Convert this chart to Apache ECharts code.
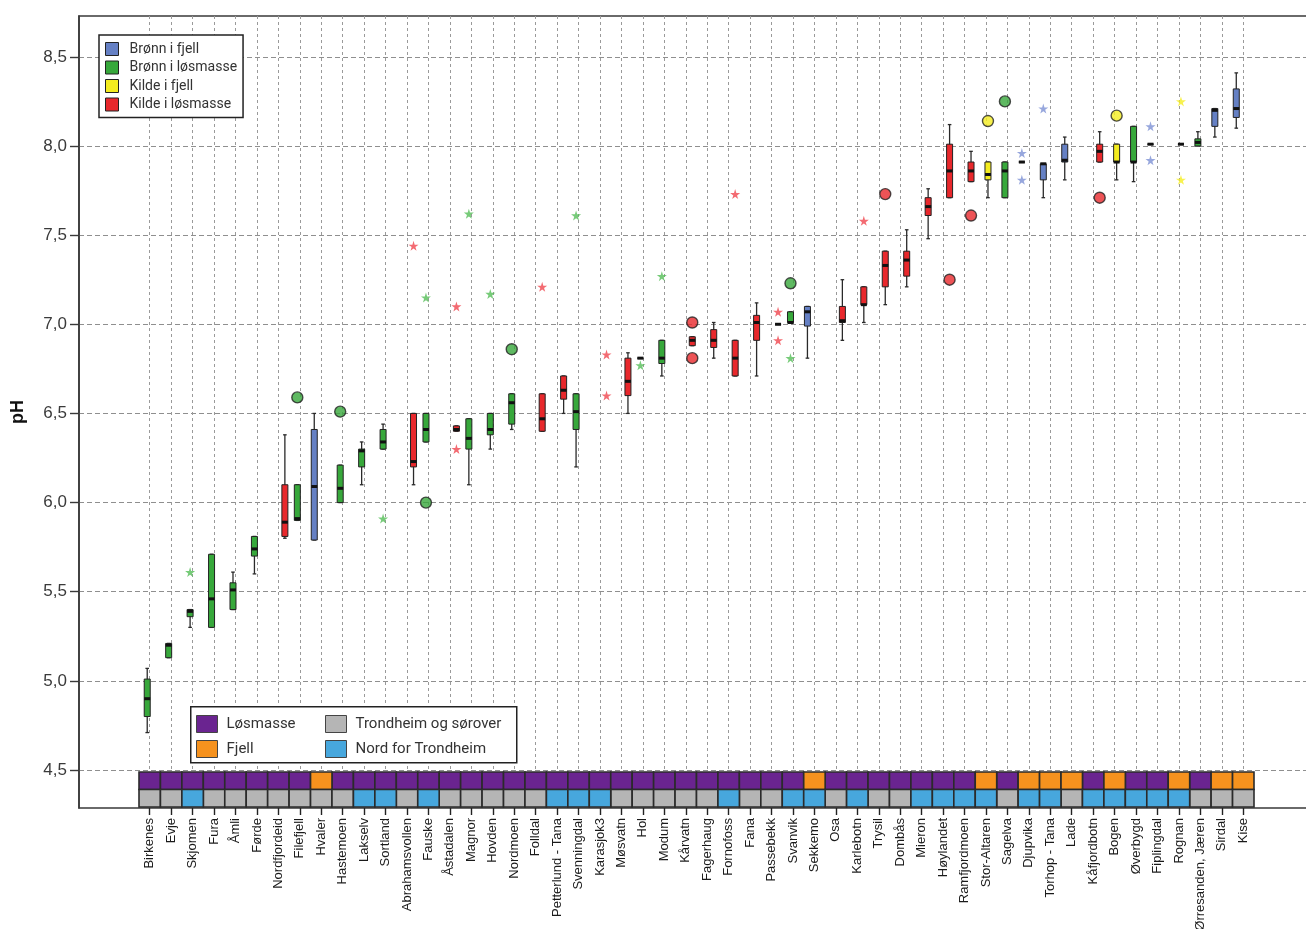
<!DOCTYPE html>
<html>
<head>
<meta charset="utf-8">
<script src="https://cdn.jsdelivr.net/npm/echarts@6/dist/echarts.min.js"></script>
<style>
  html, body { margin: 0; padding: 0; background: #fff; }
  #chart { width: 1306px; height: 929px; }
</style>
</head>
<body>
<div id="chart"></div>
<script>
// stasjoner, sortert etter median pH
const categories = [
  'Birkenes', 'Evje', 'Skjomen', 'Fura', 'Åmli', 'Førde', 'Nordfjordeid', 'Filefjell', 'Hvaler', 'Hastemoen',
  'Lakselv', 'Sortland', 'Abrahamsvollen', 'Fauske', 'Åstadalen', 'Magnor', 'Hovden', 'Nordmoen', 'Folldal', 'Petterlund - Tana',
  'Svenningdal', 'Karasjok3', 'Møsvatn', 'Hol', 'Modum', 'Kårvatn', 'Fagerhaug', 'Fornofoss', 'Fana', 'Passebekk',
  'Svanvik', 'Sekkemo', 'Osa', 'Karlebotn', 'Trysil', 'Dombås', 'Mieron', 'Høylandet', 'Ramfjordmoen', 'Stor-Altaren',
  'Sagelva', 'Djupvika', 'Torhop - Tana', 'Lade', 'Kåfjordbotn', 'Bogen', 'Øverbygd', 'Fiplingdal', 'Rognan', 'Ørresanden, Jæren',
  'Sirdal', 'Kise'
]

// BF = brønn i fjell, BL = brønn i løsmasse, KF = kilde i fjell, KL = kilde i løsmasse
const boxType = [
  'BL', 'BL', 'BL', 'BL', 'BL', 'BL', 'KL', 'BL', 'BF', 'BL',
  'BL', 'BL', 'KL', 'BL', 'KL', 'BL', 'BL', 'BL', 'KL', 'KL',
  'BL', 'KL', 'KL', 'BL', 'BL', 'KL', 'KL', 'KL', 'KL', 'KL',
  'BL', 'BF', 'KL', 'KL', 'KL', 'KL', 'KL', 'KL', 'KL', 'KF',
  'BL', 'BF', 'BF', 'BF', 'KL', 'KF', 'BL', 'BF', 'KF', 'BL',
  'BF', 'BF'
]

// [min, Q1, median, Q3, max]
const boxStats = [
  [4.71, 4.80, 4.90, 5.01, 5.07], [5.13, 5.13, 5.20, 5.21, 5.21], [5.30, 5.36, 5.39, 5.40, 5.40],
  [5.30, 5.30, 5.46, 5.71, 5.71], [5.40, 5.40, 5.51, 5.55, 5.61], [5.60, 5.70, 5.74, 5.81, 5.81],
  [5.80, 5.81, 5.89, 6.10, 6.38], [5.90, 5.90, 5.91, 6.10, 6.10], [5.79, 5.79, 6.09, 6.41, 6.50],
  [6.00, 6.00, 6.08, 6.21, 6.21], [6.10, 6.20, 6.29, 6.30, 6.34], [6.30, 6.30, 6.34, 6.41, 6.44],
  [6.10, 6.20, 6.23, 6.50, 6.50], [6.34, 6.34, 6.41, 6.50, 6.50], [6.40, 6.40, 6.41, 6.43, 6.43],
  [6.10, 6.30, 6.36, 6.47, 6.47], [6.30, 6.38, 6.41, 6.50, 6.50], [6.41, 6.44, 6.56, 6.61, 6.61],
  [6.40, 6.40, 6.47, 6.61, 6.61], [6.50, 6.58, 6.63, 6.71, 6.71], [6.20, 6.41, 6.51, 6.61, 6.61],
  null, [6.50, 6.60, 6.68, 6.81, 6.84], [6.81, 6.81, 6.81, 6.81, 6.81],
  [6.71, 6.78, 6.81, 6.91, 6.91], [6.88, 6.88, 6.91, 6.93, 6.93], [6.81, 6.87, 6.91, 6.97, 7.01],
  [6.71, 6.71, 6.81, 6.91, 6.91], [6.71, 6.91, 7.01, 7.05, 7.12], [7.00, 7.00, 7.00, 7.00, 7.00],
  [7.01, 7.01, 7.01, 7.07, 7.07], [6.81, 6.99, 7.07, 7.10, 7.10], [6.91, 7.01, 7.02, 7.10, 7.25],
  [7.01, 7.11, 7.11, 7.21, 7.21], [7.11, 7.21, 7.33, 7.41, 7.41], [7.21, 7.27, 7.36, 7.41, 7.53],
  [7.48, 7.61, 7.66, 7.71, 7.76], [7.71, 7.71, 7.86, 8.01, 8.12], [7.80, 7.80, 7.86, 7.91, 7.97],
  [7.71, 7.81, 7.84, 7.91, 7.91], [7.71, 7.71, 7.86, 7.91, 7.91], [7.91, 7.91, 7.91, 7.91, 7.91],
  [7.71, 7.81, 7.90, 7.90, 7.90], [7.81, 7.91, 7.92, 8.01, 8.05], [7.91, 7.91, 7.97, 8.01, 8.08],
  [7.81, 7.91, 7.91, 8.01, 8.01], [7.80, 7.91, 7.91, 8.11, 8.11], [8.01, 8.01, 8.01, 8.01, 8.01],
  [8.01, 8.01, 8.01, 8.01, 8.01], [8.00, 8.00, 8.02, 8.04, 8.08], [8.05, 8.11, 8.20, 8.21, 8.21],
  [8.10, 8.16, 8.21, 8.32, 8.41]
]

// uteliggere: o = sirkel, * = ekstremverdi
const outliers = [
  ['Skjomen', 5.61, '*'], ['Filefjell', 6.59, 'o'], ['Hastemoen', 6.51, 'o'], ['Sortland', 5.91, '*'],
  ['Abrahamsvollen', 7.44, '*'], ['Fauske', 7.15, '*'], ['Fauske', 6.00, 'o'], ['Åstadalen', 7.10, '*'],
  ['Åstadalen', 6.30, '*'], ['Magnor', 7.62, '*'], ['Hovden', 7.17, '*'], ['Nordmoen', 6.86, 'o'],
  ['Folldal', 7.21, '*'], ['Svenningdal', 7.61, '*'], ['Karasjok3', 6.83, '*'], ['Karasjok3', 6.60, '*'],
  ['Hol', 6.77, '*'], ['Modum', 7.27, '*'], ['Kårvatn', 7.01, 'o'], ['Kårvatn', 6.81, 'o'],
  ['Fornofoss', 7.73, '*'], ['Passebekk', 7.07, '*'], ['Passebekk', 6.91, '*'], ['Svanvik', 7.23, 'o'],
  ['Svanvik', 6.81, '*'], ['Karlebotn', 7.58, '*'], ['Trysil', 7.73, 'o'], ['Høylandet', 7.25, 'o'],
  ['Ramfjordmoen', 7.61, 'o'], ['Stor-Altaren', 8.14, 'o'], ['Sagelva', 8.25, 'o'], ['Djupvika', 7.96, '*'],
  ['Djupvika', 7.81, '*'], ['Torhop - Tana', 8.21, '*'], ['Kåfjordbotn', 7.71, 'o'], ['Bogen', 8.17, 'o'],
  ['Fiplingdal', 8.11, '*'], ['Fiplingdal', 7.92, '*'], ['Rognan', 8.25, '*'], ['Rognan', 7.81, '*']
]

// L = løsmasse, F = fjell
const geology = [
  'L', 'L', 'L', 'L', 'L', 'L', 'L', 'L', 'F', 'L',
  'L', 'L', 'L', 'L', 'L', 'L', 'L', 'L', 'L', 'L',
  'L', 'L', 'L', 'L', 'L', 'L', 'L', 'L', 'L', 'L',
  'L', 'F', 'L', 'L', 'L', 'L', 'L', 'L', 'L', 'F',
  'L', 'F', 'F', 'F', 'L', 'F', 'L', 'L', 'F', 'L',
  'F', 'F'
]

// S = Trondheim og sørover, N = nord for Trondheim
const region = [
  'S', 'S', 'N', 'S', 'S', 'S', 'S', 'S', 'S', 'S',
  'N', 'N', 'S', 'N', 'S', 'S', 'S', 'S', 'S', 'N',
  'N', 'N', 'S', 'S', 'S', 'S', 'S', 'N', 'S', 'S',
  'N', 'N', 'S', 'N', 'S', 'S', 'N', 'N', 'N', 'N',
  'S', 'N', 'N', 'S', 'N', 'N', 'N', 'N', 'N', 'S',
  'S', 'S'
]

const phTicks = [4.5, 5.0, 5.5, 6.0, 6.5, 7.0, 7.5, 8.0, 8.5]
const phMin = 4.287
const phMax = 8.729

// stil
const typeOrder = ['BF', 'BL', 'KF', 'KL']
const typeName = { BF: 'Brønn i fjell', BL: 'Brønn i løsmasse', KF: 'Kilde i fjell', KL: 'Kilde i løsmasse' }
const typeColor = { BF: '#6580c4', BL: '#37a83b', KF: '#f4ec1f', KL: '#e8282c' }
const starColor = { BF: '#7d91d4', BL: '#55be57', KF: '#f6ef22', KL: '#f0464f' }
const typeShift = { BF: -7, BL: -2.5, KF: 2, KL: 6.5 }
const stripClasses = [
  { name: 'Løsmasse', color: '#6a2490', row: 1, pick: i => geology[i] === 'L' },
  { name: 'Fjell', color: '#f6921e', row: 1, pick: i => geology[i] === 'F' },
  { name: 'Trondheim og sørover', color: '#b5b5b5', row: 0, pick: i => region[i] === 'S' },
  { name: 'Nord for Trondheim', color: '#47a7dd', row: 0, pick: i => region[i] === 'N' }
]
const starPath = 'path://M50,0 L61,35 L98,35 L68,57 L79,91 L50,70 L21,91 L32,57 L2,35 L39,35 Z'

const boxRenderer = t => (params, api) => {
  const i = api.value(0)
  const x = api.coord([i, phMin])[0] + typeShift[t]
  const y = k => api.coord([i, api.value(k)])[1]
  const lo = y(1), q1 = y(2), md = y(3), q3 = y(4), hi = y(5)
  const w = 6, c = 1.8
  const line = (x1, y1, x2, y2) => ({
    type: 'line', shape: { x1, y1, x2, y2 }, style: { stroke: '#2a2a2a', lineWidth: 1.3 }
  })
  return {
    type: 'group',
    children: [
      line(x, hi, x, lo),
      line(x - c, hi, x + c, hi),
      line(x - c, lo, x + c, lo),
      { type: 'rect', shape: { x: x - w / 2, y: q3, width: w, height: q1 - q3 },
        style: { fill: typeColor[t], stroke: '#222', lineWidth: 1 } },
      { type: 'rect', shape: { x: x - w / 2, y: md - 1.5, width: w, height: 3 }, style: { fill: '#111' } }
    ]
  }
}

const cellRenderer = color => (params, api) => {
  const c = api.coord([api.value(0), api.value(1)])
  const s = api.size([1, 1])
  return {
    type: 'rect',
    shape: { x: c[0] - s[0] / 2, y: c[1] - s[1] / 2, width: s[0], height: s[1] },
    style: { fill: color, stroke: '#2b2b2b', lineWidth: 1.6 }
  }
}

const boxSeries = typeOrder.map(t => ({
  name: typeName[t],
  type: 'custom',
  xAxisIndex: 1,
  yAxisIndex: 1,
  z: 3,
  itemStyle: { color: typeColor[t], borderColor: '#222', borderWidth: 1 },
  renderItem: boxRenderer(t),
  encode: { x: 0, y: [1, 2, 3, 4, 5] },
  data: boxStats
    .map((s, i) => (s && boxType[i] === t ? [i, ...s] : null))
    .filter(d => d)
}))

const outlierSeries = typeOrder.map(t => ({
  name: typeName[t] + ' uteliggere',
  type: 'scatter',
  xAxisIndex: 1,
  yAxisIndex: 1,
  z: 4,
  symbolOffset: [typeShift[t], 0],
  data: outliers
    .filter(o => boxType[categories.indexOf(o[0])] === t)
    .map(o => o[2] === 'o'
      ? { value: [categories.indexOf(o[0]), o[1]], symbol: 'circle', symbolSize: 11,
          itemStyle: { color: typeColor[t], borderColor: '#222', borderWidth: 1.4 } }
      : { value: [categories.indexOf(o[0]), o[1]], symbol: starPath, symbolSize: 10,
          itemStyle: { color: starColor[t], borderWidth: 0 } })
}))

const stripSeries = stripClasses.map(k => ({
  name: k.name,
  type: 'custom',
  xAxisIndex: 2,
  yAxisIndex: 2,
  itemStyle: { color: k.color, borderColor: '#222', borderWidth: 1 },
  renderItem: cellRenderer(k.color),
  encode: { x: 0, y: 1 },
  data: categories.map((c, i) => (k.pick(i) ? [i, k.row] : null)).filter(d => d)
}))

const chart = echarts.init(document.getElementById('chart'), null, { renderer: 'canvas' })

chart.setOption({
  animation: false,
  backgroundColor: '#fff',
  textStyle: { fontFamily: 'Liberation Sans, Arial, sans-serif' },
  grid: [
    { left: 79, right: -3, top: 16, bottom: 121, show: true, borderColor: '#3a3a3a', borderWidth: 1.6, outerBoundsMode: 'none' },
    { left: 139, right: 52, top: 16, bottom: 121, outerBoundsMode: 'none' },
    { left: 139, right: 52, top: 772, bottom: 122, outerBoundsMode: 'none' }
  ],
  xAxis: [
    { gridIndex: 0, type: 'value', min: 0, max: 1, show: false },
    {
      gridIndex: 1,
      type: 'category',
      data: categories,
      axisLine: { show: false },
      axisTick: { show: true, alignWithLabel: true, length: 7, lineStyle: { color: '#222', width: 1.4 } },
      axisLabel: { interval: 0, rotate: 90, margin: 10, fontSize: 13, color: '#1a1a1a' },
      splitLine: { show: true, alignWithLabel: true, lineStyle: { type: [3, 3], color: '#9a9a9a', width: 1 } }
    },
    { gridIndex: 2, type: 'category', data: categories, show: false }
  ],
  yAxis: [
    {
      gridIndex: 0,
      type: 'value',
      min: phMin,
      max: phMax,
      splitNumber: 9,
      name: 'pH',
      nameLocation: 'middle',
      nameGap: 52,
      nameTextStyle: { fontSize: 18, fontWeight: 'bold', color: '#111' },
      axisLine: { show: true, lineStyle: { color: '#3a3a3a', width: 1.6 } },
      axisTick: { show: true, length: 9, customValues: phTicks, lineStyle: { color: '#3a3a3a', width: 1.4 } },
      axisLabel: {
        customValues: phTicks,
        margin: 12,
        fontSize: 17,
        color: '#3a3a3a',
        formatter: v => v.toFixed(1).replace('.', ',')
      },
      splitLine: { show: true, lineStyle: { type: [5, 3], color: '#8f8f8f', width: 1 } }
    },
    { gridIndex: 1, type: 'value', min: phMin, max: phMax, show: false },
    { gridIndex: 2, type: 'category', data: ['region', 'geologi'], show: false }
  ],
  legend: [
    {
      data: typeOrder.map(t => typeName[t]),
      orient: 'vertical',
      left: 99,
      top: 35,
      padding: [7, 6, 6, 6],
      itemWidth: 13,
      itemHeight: 13,
      itemGap: 4.5,
      icon: 'rect',
      selectedMode: false,
      backgroundColor: '#fff',
      borderColor: '#222',
      borderWidth: 1.5,
      itemStyle: { borderColor: '#222', borderWidth: 1 },
      textStyle: { fontFamily: 'Roboto', fontSize: 14, color: '#333', padding: [0, 0, 0, 6] },
      z: 20
    },
    {
      data: ['Løsmasse', 'Fjell'],
      orient: 'vertical',
      left: 196,
      top: 715,
      padding: 0,
      itemWidth: 21,
      itemHeight: 17,
      itemGap: 7,
      icon: 'rect',
      selectedMode: false,
      itemStyle: { borderColor: '#444', borderWidth: 1 },
      textStyle: { fontFamily: 'Roboto', fontSize: 15, color: '#333', padding: [0, 0, 0, 4] },
      z: 20
    },
    {
      data: ['Trondheim og sørover', 'Nord for Trondheim'],
      orient: 'vertical',
      left: 325,
      top: 715,
      padding: 0,
      itemWidth: 21,
      itemHeight: 17,
      itemGap: 7,
      icon: 'rect',
      selectedMode: false,
      itemStyle: { borderColor: '#444', borderWidth: 1 },
      textStyle: { fontFamily: 'Roboto', fontSize: 15, color: '#333', padding: [0, 0, 0, 4] },
      z: 20
    }
  ],
  graphic: [
    {
      type: 'rect',
      left: 190,
      top: 706,
      z: 10,
      shape: { width: 326, height: 56 },
      style: { fill: '#fff', stroke: '#222', lineWidth: 1.5 }
    }
  ],
  series: [...boxSeries, ...outlierSeries, ...stripSeries]
})
</script>
</body>
</html>
